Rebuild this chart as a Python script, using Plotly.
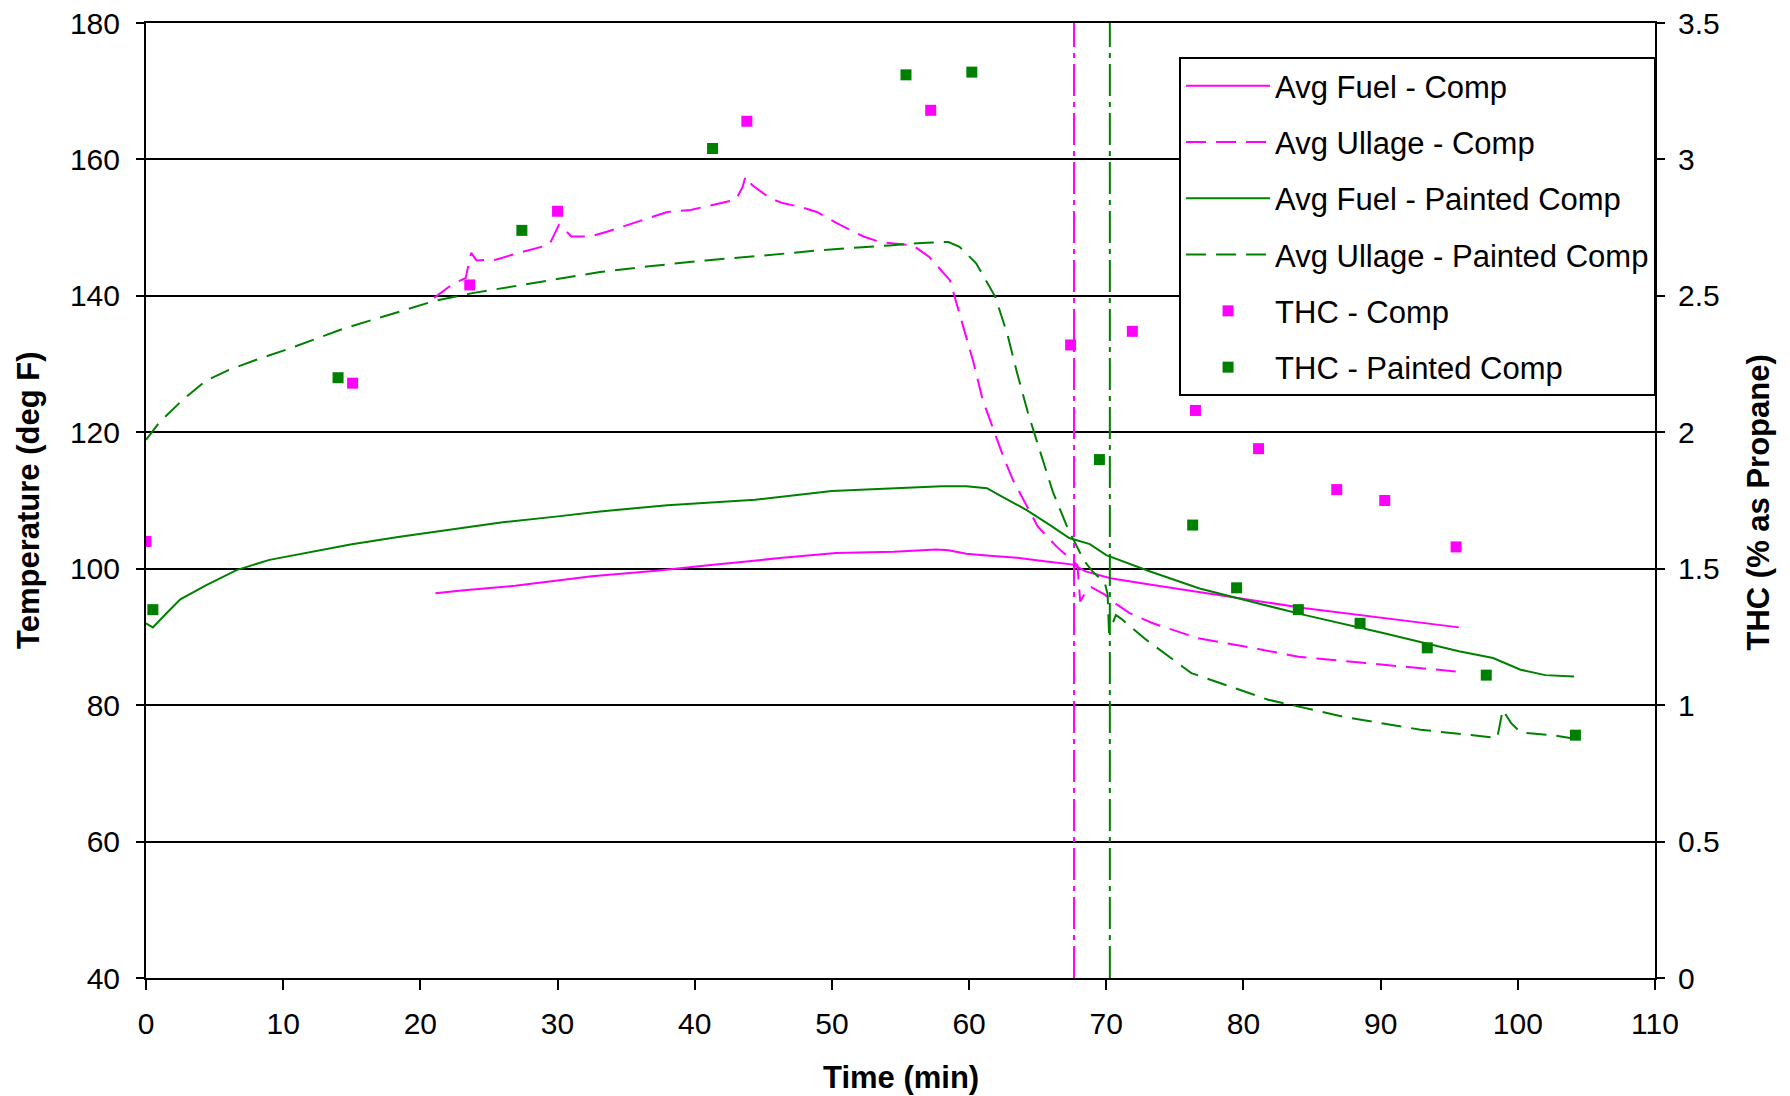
import plotly.graph_objects as go

# ---------------- data ----------------
fuel_comp_time = [21.1, 23.0, 26.9, 32.5, 37.2, 39.3, 41.0, 46.4, 50.3, 54.5, 57.6, 58.5, 59.8, 61.5,
                  63.5, 65.5, 67.6, 68.5, 70.3, 73.4, 76.8, 79.0, 84.5, 90.1, 95.7]
fuel_comp_temp = [96.4, 96.8, 97.5, 98.9, 99.7, 100.1, 100.5, 101.6, 102.3, 102.5, 102.8, 102.7, 102.2, 101.9,
                  101.6, 101.1, 100.6, 99.6, 98.6, 97.6, 96.6, 95.9, 94.2, 92.8, 91.4]

ullage_comp_time = [21.0, 22.4, 23.3, 23.7, 24.1, 25.5, 27.0, 28.5, 29.4, 30.1, 30.4, 31.0, 32.4, 33.6,
                    36.1, 38.0, 39.7, 42.2, 43.0, 43.5, 43.7, 44.2, 45.5, 46.4, 47.8, 48.9, 50.6, 52.3,
                    53.5, 55.9, 57.1, 58.6, 59.3, 60.3, 61.0, 61.9, 62.5, 63.2, 64.2, 65.0, 66.4, 67.6,
                    67.9, 68.1, 68.6, 68.9, 69.9, 70.6, 71.7, 73.4, 75.1, 76.7, 80.1, 84.0, 88.7, 92.9, 95.7]
ullage_comp_temp = [139.7, 141.8, 142.6, 146.3, 145.2, 145.3, 146.2, 147.0, 147.5, 150.4, 150.0, 148.7, 148.7, 149.4,
                    151.1, 152.3, 152.6, 153.8, 154.1, 156.0, 157.5, 156.2, 154.3, 153.6, 153.0, 152.3, 150.4, 148.7,
                    147.9, 147.4, 145.7, 142.3, 137.4, 130.4, 124.7, 119.9, 116.4, 113.0, 109.1, 106.2, 103.2, 101.0,
                    100.5, 95.2, 96.9, 97.3, 96.2, 95.0, 93.5, 92.0, 90.9, 89.8, 88.6, 87.1, 86.2, 85.4, 84.9]

fuel_painted_time = [0.0, 0.5, 1.6, 2.5, 4.4, 6.6, 9.0, 11.7, 15.0, 18.5, 22.8, 26.0, 29.7, 33.1, 38.0,
                     44.4, 50.0, 55.0, 58.0, 59.8, 61.3, 62.2, 64.2, 65.9, 67.3, 68.8, 70.0, 73.2, 76.8,
                     80.1, 84.5, 90.1, 95.7, 98.2, 100.2, 102.0, 104.1]
fuel_painted_temp = [92.0, 91.4, 93.7, 95.5, 97.6, 99.8, 101.3, 102.3, 103.6, 104.7, 105.9, 106.8, 107.6, 108.4, 109.3,
                     110.1, 111.4, 111.8, 112.1, 112.1, 111.8, 110.8, 108.6, 106.4, 104.5, 103.6, 102.0, 99.6, 97.1,
                     95.4, 93.2, 90.6, 87.9, 86.9, 85.2, 84.4, 84.2]

ullage_painted_time = [0.0, 1.0, 2.7, 4.4, 6.1, 8.0, 10.5, 14.4, 18.5, 21.1, 23.8, 25.3, 29.8, 33.1, 36.5,
                       40.8, 45.0, 49.2, 54.2, 56.9, 58.5, 59.3, 60.5, 61.9, 62.8, 63.5, 64.3, 65.2, 66.1,
                       67.2, 68.4, 69.0, 69.9, 70.1, 70.2, 70.7, 71.0, 72.9, 76.2, 81.8, 87.3, 92.9, 98.5,
                       98.9, 99.5, 100.2, 102.5, 104.4]
ullage_painted_temp = [118.9, 121.5, 124.8, 127.6, 129.2, 130.6, 132.3, 135.2, 137.7, 139.3, 140.4, 140.9, 142.3, 143.5, 144.3,
                       145.2, 145.9, 146.7, 147.4, 147.8, 147.9, 147.2, 144.8, 139.9, 134.3, 128.7, 122.8, 117.0, 111.3,
                       105.9, 101.1, 99.6, 97.9, 96.2, 90.6, 93.2, 92.8, 89.6, 84.7, 80.8, 78.3, 76.4, 75.2,
                       79.3, 77.4, 76.0, 75.6, 75.0]

thc_comp_time = [0.0, 15.06, 23.6, 30.0, 43.8, 57.2, 67.4, 71.9, 76.5, 81.1, 86.8, 90.3, 95.5]
thc_comp_val = [1.60, 2.18, 2.54, 2.81, 3.14, 3.18, 2.32, 2.37, 2.08, 1.94, 1.79, 1.75, 1.58]

thc_painted_time = [0.5, 14.0, 27.4, 41.3, 55.4, 60.2, 69.5, 76.3, 79.5, 84.0, 88.5, 93.4, 97.7, 104.2]
thc_painted_val = [1.35, 2.20, 2.74, 3.04, 3.31, 3.32, 1.90, 1.66, 1.43, 1.35, 1.30, 1.21, 1.11, 0.89]

event_times = [67.65, 70.26]
event_colors = ["#FF00FF", "#008000"]

x_ticks = list(range(0, 111, 10))
y_ticks = list(range(40, 181, 20))
y2_ticks = [0, 0.5, 1, 1.5, 2, 2.5, 3, 3.5]

MAGENTA = "#FF00FF"
GREEN = "#008000"
FONT = "Liberation Sans, Arial, sans-serif"

fig = go.Figure()

fig.add_trace(go.Scatter(x=fuel_comp_time, y=fuel_comp_temp, mode="lines", name="Avg Fuel - Comp",
                         legendgroup="g1", line=dict(color=MAGENTA, width=2)))
fig.add_trace(go.Scatter(x=ullage_comp_time, y=ullage_comp_temp, mode="lines", name="Avg Ullage - Comp",
                         legendgroup="g2", line=dict(color=MAGENTA, width=2, dash="20px,10px")))
fig.add_trace(go.Scatter(x=fuel_painted_time, y=fuel_painted_temp, mode="lines", name="Avg Fuel - Painted Comp",
                         legendgroup="g3", line=dict(color=GREEN, width=2)))
fig.add_trace(go.Scatter(x=ullage_painted_time, y=ullage_painted_temp, mode="lines",
                         name="Avg Ullage - Painted Comp",
                         legendgroup="g4", line=dict(color=GREEN, width=2, dash="20px,10px")))
fig.add_trace(go.Scatter(x=thc_comp_time, y=thc_comp_val, mode="markers", name="THC - Comp", yaxis="y2",
                         legendgroup="g5", marker=dict(symbol="square", size=11, color=MAGENTA)))
fig.add_trace(go.Scatter(x=thc_painted_time, y=thc_painted_val, mode="markers", name="THC - Painted Comp",
                         yaxis="y2", legendgroup="g6",
                         marker=dict(symbol="square", size=11, color=GREEN)))

shapes = []
for t, c in zip(event_times, event_colors):
    shapes.append(dict(type="line", xref="x", yref="y", x0=t, x1=t, y0=40, y1=180,
                       line=dict(color=c, width=2, dash="32px,6px,5px,6px")))

axis_common = dict(showline=True, linecolor="black", linewidth=2, ticks="outside",
                   tickcolor="black", tickwidth=2, tickfont=dict(family=FONT, size=30, color="black"),
                   zeroline=False, automargin=False)

fig.update_layout(
    width=1790, height=1096,
    margin=dict(l=146, r=135, t=23, b=118, autoexpand=False),
    paper_bgcolor="white", plot_bgcolor="white",
    font=dict(family=FONT, size=30, color="black"),
    showlegend=True,
    xaxis=dict(range=[0, 110], tickvals=x_ticks, ticklen=10, showgrid=False, mirror=True,
               ticklabelstandoff=8, **axis_common),
    yaxis=dict(range=[40, 180], tickvals=y_ticks, ticklen=8, showgrid=True, gridcolor="black",
               gridwidth=2, ticklabelstandoff=10, **axis_common),
    yaxis2=dict(range=[0, 3.5], tickvals=y2_ticks, ticklen=8, overlaying="y", side="right",
                showgrid=False, ticklabelstandoff=7, **axis_common),
    legend=dict(x=0.6846, y=0.9644, xanchor="left", yanchor="top", bgcolor="white",
                bordercolor="black", borderwidth=2, font=dict(family=FONT, size=31, color="black"),
                itemwidth=84, tracegroupgap=13, traceorder="grouped"),
    shapes=shapes,
    annotations=[
        dict(text="<b>Time (min)</b>", xref="paper", yref="paper", x=0.5, y=-0.1037,
             xanchor="center", yanchor="middle", showarrow=False, font=dict(family=FONT, size=31)),
        dict(text="<b>Temperature (deg F)</b>", xref="paper", yref="paper", x=-0.0779, y=0.5,
             xanchor="center", yanchor="middle", textangle=-90, showarrow=False,
             font=dict(family=FONT, size=31)),
        dict(text="<b>THC (% as Propane)</b>", xref="paper", yref="paper", x=1.0683, y=0.498,
             xanchor="center", yanchor="middle", textangle=-90, showarrow=False,
             font=dict(family=FONT, size=31)),
    ],
)

fig.write_html("out.html", config={"displayModeBar": False},
               post_script="document.body.style.margin='0';")
